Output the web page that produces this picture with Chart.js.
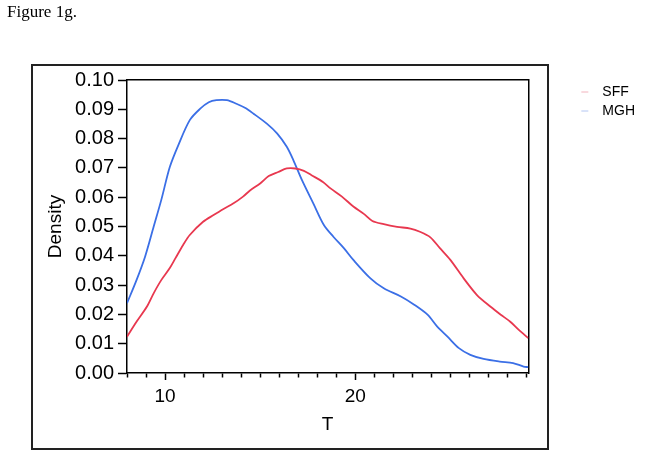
<!DOCTYPE html>
<html>
<head>
<meta charset="utf-8">
<script src="https://cdn.jsdelivr.net/npm/chart.js"></script>
<style>
  body { margin: 0; background: #fff; }
  canvas { display: block; }
</style>
</head>
<body>
<canvas id="canvas" width="647" height="457"></canvas>
<script>
// values
var seriesNames = ["SFF", "MGH"];
var seriesColors = ["#e8384f", "#3b6fe6"];
var legendMarks = ["#f2b3bd", "#b3c6f2"];

var sffT = [8.0, 8.5, 9.05, 9.4, 9.8, 10.25, 10.55, 10.95, 11.3, 12.0, 12.55, 13.05, 13.6, 14.1, 14.45, 15.0, 15.45, 15.95, 16.4, 16.85, 17.3, 17.7, 18.3, 18.7, 19.3, 19.9, 20.45, 20.9, 21.5, 22.2, 22.9, 23.4, 23.95, 24.45, 25.0, 25.7, 26.4, 27.1, 27.65, 28.15, 28.6, 29.1];
var sffD = [0.0124, 0.0175, 0.0227, 0.0272, 0.0317, 0.0358, 0.0392, 0.0437, 0.0471, 0.0516, 0.0539, 0.0559, 0.0579, 0.0602, 0.0622, 0.0647, 0.0672, 0.0686, 0.0698, 0.0698, 0.069, 0.0675, 0.0652, 0.063, 0.0602, 0.0568, 0.0543, 0.0519, 0.0508, 0.0499, 0.0493, 0.0482, 0.0463, 0.0426, 0.0386, 0.0323, 0.0266, 0.0227, 0.0199, 0.0175, 0.0147, 0.0119];

var mghT = [8.0, 8.5, 8.95, 9.4, 9.8, 10.25, 10.7, 11.3, 11.85, 12.3, 12.7, 13.25, 13.75, 14.2, 14.65, 15.35, 15.9, 16.4, 16.75, 17.2, 17.8, 18.35, 18.85, 19.4, 19.9, 20.8, 21.5, 22.4, 23.1, 23.8, 24.3, 24.85, 25.45, 26.05, 26.75, 27.6, 28.3, 28.85, 29.1];
var mghD = [0.0238, 0.0317, 0.0397, 0.0499, 0.059, 0.0703, 0.0778, 0.0863, 0.0902, 0.0924, 0.0931, 0.0931, 0.0919, 0.0905, 0.0885, 0.0851, 0.0817, 0.0772, 0.0726, 0.0658, 0.0578, 0.0505, 0.0465, 0.0426, 0.0386, 0.0323, 0.0289, 0.0261, 0.0233, 0.0199, 0.0159, 0.0124, 0.0085, 0.0062, 0.0048, 0.0039, 0.0034, 0.0022, 0.002];

var xMin = 8, xMax = 29.1;
var xLabelTicks = [10, 20];
var yMin = 0, yMax = 0.1, yStep = 0.01;

function pts(xs, ys) {
    var out = [];
    for (var i = 0; i < xs.length; i++) out.push({x: xs[i], y: ys[i]});
    return out;
}

Chart.defaults.font.family = "'Liberation Sans', Arial, sans-serif";
Chart.defaults.color = "#000";

// outer box around the plot
var frame = {
    id: "frame",
    beforeDraw: function(chart) {
        var ctx = chart.ctx;
        ctx.save();
        ctx.strokeStyle = "#222";
        ctx.lineWidth = 2;
        ctx.strokeRect(32, 65, 516, 384);
        ctx.restore();
    }
};

new Chart("canvas", {
    type: "line",
    data: {
        datasets: [
            { label: seriesNames[0], data: pts(sffT, sffD), borderColor: seriesColors[0], borderWidth: 1.8, pointRadius: 0, fill: false, tension: 0.3, xAxisID: "x", yAxisID: "y" },
            { label: seriesNames[1], data: pts(mghT, mghD), borderColor: seriesColors[1], borderWidth: 1.8, pointRadius: 0, fill: false, tension: 0.3, xAxisID: "x", yAxisID: "y" }
        ]
    },
    options: {
        responsive: false,
        animation: false,
        layout: { padding: { left: 7, top: 0, right: 2, bottom: 0 } },
        plugins: {
            tooltip: { enabled: false },
            title: {
                display: true,
                text: "Figure 1g.",
                align: "start",
                color: "#000",
                font: { family: "'Liberation Serif', 'Times New Roman', serif", size: 17, weight: "normal", lineHeight: 1.2 },
                padding: { top: 2, bottom: 57.6 }
            },
            legend: {
                position: "right",
                align: "start",
                fullSize: false,
                labels: {
                    usePointStyle: true,
                    pointStyleWidth: 14,
                    boxHeight: 4,
                    padding: 5,
                    color: "#000",
                    font: { size: 14 },
                    generateLabels: function(chart) {
                        var items = Chart.defaults.plugins.legend.labels.generateLabels(chart);
                        items.forEach(function(it, i) {
                            it.pointStyle = "dash";
                            it.rotation = 180;
                            it.lineWidth = 1;
                            it.strokeStyle = legendMarks[i];
                        });
                        return items;
                    }
                }
            }
        },
        scales: {
            x: {
                type: "linear",
                position: "bottom",
                min: xMin,
                max: xMax,
                afterFit: function(s) { s.height = 84; },
                border: { color: "#000", width: 1.5 },
                grid: {
                    drawOnChartArea: false,
                    tickLength: 7,
                    tickWidth: 1.5,
                    tickColor: "#000",
                    tickBorderDash: function(c) { return xLabelTicks.indexOf(c.tick.value) >= 0 ? [] : [4, 20]; }
                },
                ticks: {
                    stepSize: 1,
                    autoSkip: false,
                    includeBounds: false,
                    maxRotation: 0,
                    padding: 5,
                    font: { size: 19 },
                    callback: function(v) { return xLabelTicks.indexOf(v) >= 0 ? String(v) : ""; }
                },
                title: { display: true, text: "T", font: { size: 19 }, padding: { top: 0, bottom: 20.6 } }
            },
            x2: {
                type: "linear",
                position: "top",
                afterFit: function(s) { s.height = 0; },
                border: { color: "#000", width: 1.5 },
                grid: { display: false, drawTicks: false },
                ticks: { display: false }
            },
            y: {
                type: "linear",
                position: "left",
                min: yMin,
                max: yMax,
                afterFit: function(s) { s.width = 120; },
                border: { color: "#000", width: 1.5 },
                grid: { drawOnChartArea: false, tickLength: 9, tickWidth: 1.5, tickColor: "#000" },
                ticks: {
                    stepSize: yStep,
                    padding: 4,
                    font: { size: 20 },
                    callback: function(v) { return v.toFixed(2); }
                },
                title: { display: true, text: "Density", font: { size: 19 }, padding: { top: 37, bottom: 0 } }
            },
            y2: {
                type: "linear",
                position: "right",
                afterFit: function(s) { s.width = 48; },
                border: { color: "#000", width: 1.5 },
                grid: { display: false, drawTicks: false },
                ticks: { display: false }
            }
        }
    },
    plugins: [frame]
});
</script>
</body>
</html>
